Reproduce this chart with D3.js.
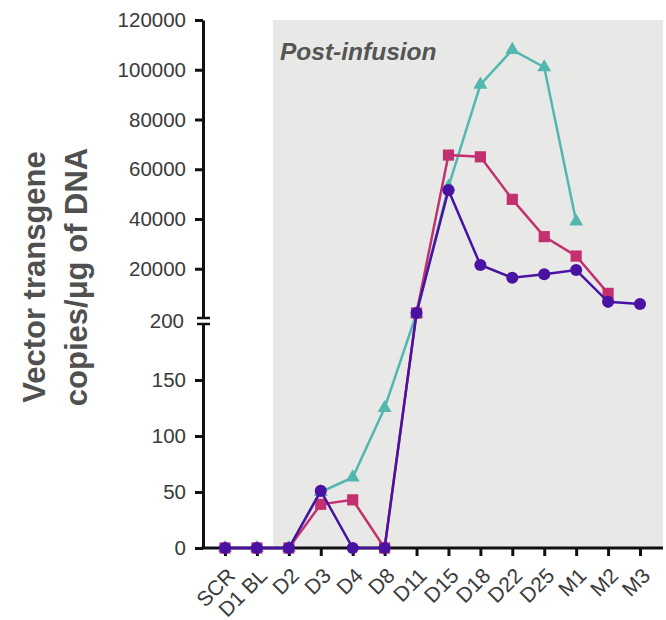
<!DOCTYPE html>
<html>
<head>
<meta charset="utf-8">
<script src="https://cdn.jsdelivr.net/npm/d3@7"></script>
<style>
	body { margin: 0; background: #fff; }
	text { font-family: "Liberation Sans", Arial, sans-serif; }
</style>
</head>
<body>
<div id="chart"></div>
<script>
var categories = ['SCR', 'D1 BL', 'D2', 'D3', 'D4', 'D8', 'D11', 'D15', 'D18', 'D22', 'D25', 'M1', 'M2', 'M3'];

// values, null = no point
var tealValues = [0, 0, 0, 50, 63, 125, 2000, 53000, 94000, 108000, 101000, 39000, null, null];
var pinkValues = [0, 0, 0, 39, 43, 0, 2200, 65700, 65000, 47900, 32900, 25100, 10100, null];
var purpleValues = [0, 0, 0, 51, 0, 0, 2200, 51600, 21500, 16400, 17800, 19500, 6700, 5800];

var lowTicks = [0, 50, 100, 150];
var highTicks = [20000, 40000, 60000, 80000, 100000, 120000];
var breakValue = 200;

var svg = d3.select('#chart').append('svg').attr('width', 666).attr('height', 620);

var xScale = d3.scalePoint()
	.domain(categories)
	.range([225, 640]);

var yLow = d3.scaleLinear()
	.domain([0, breakValue])
	.range([548, 324]);

var yHigh = d3.scaleLinear()
	.domain([breakValue, 120000])
	.range([318, 20]);

function yPos(v) {
	return v <= breakValue ? yLow(v) : yHigh(v);
}

// post-infusion band
svg.append('rect')
	.attr('x', 273)
	.attr('y', yHigh(120000))
	.attr('width', 663 - 273)
	.attr('height', yLow(0) - yHigh(120000))
	.attr('fill', '#e8e9e7');

svg.append('text')
	.attr('x', 280)
	.attr('y', 60)
	.attr('font-size', '24.5px')
	.attr('font-weight', 'bold')
	.attr('font-style', 'italic')
	.attr('fill', '#555')
	.text('Post-infusion');

// y axis, two segments
var lowAxis = d3.axisLeft(yLow).tickValues(lowTicks).tickSize(8).tickSizeOuter(0).tickPadding(9);
var highAxis = d3.axisLeft(yHigh).tickValues(highTicks).tickSize(8).tickSizeOuter(0).tickPadding(9)
	.tickFormat(d3.format('d'));

[lowAxis, highAxis].forEach(function(ax) {
	var g = svg.append('g')
		.attr('transform', 'translate(203,0)')
		.call(ax);
	g.select('.domain').attr('stroke', '#111').attr('stroke-width', 3);
	g.selectAll('.tick line').attr('stroke', '#111').attr('stroke-width', 3);
	g.selectAll('.tick text')
		.attr('font-size', '20.5px')
		.attr('font-family', '"Liberation Sans", Arial, sans-serif')
		.attr('fill', '#3a3a3a');
});

// break marks
[yLow(breakValue), yHigh(breakValue)].forEach(function(y) {
	svg.append('line')
		.attr('x1', 197).attr('x2', 210)
		.attr('y1', y).attr('y2', y)
		.attr('stroke', '#111')
		.attr('stroke-width', 2.5);
});

svg.append('text')
	.attr('x', 184)
	.attr('y', (yLow(breakValue) + yHigh(breakValue)) / 2)
	.attr('dy', '0.35em')
	.attr('text-anchor', 'end')
	.attr('font-size', '20.5px')
	.attr('fill', '#3a3a3a')
	.text(breakValue);

// x axis
var xAxis = d3.axisBottom(xScale).tickSize(8).tickSizeOuter(0);

var xg = svg.append('g')
	.attr('transform', 'translate(0,' + yLow(0) + ')')
	.call(xAxis);

xg.select('.domain').remove();
xg.selectAll('.tick line').attr('stroke', '#111').attr('stroke-width', 3);
xg.selectAll('.tick text')
	.attr('y', 0)
	.attr('dy', 0)
	.attr('text-anchor', 'end')
	.attr('transform', 'translate(11,29) rotate(-45)')
	.attr('font-size', '21px')
	.attr('font-family', '"Liberation Sans", Arial, sans-serif')
	.attr('fill', '#3a3a3a');

svg.append('line')
	.attr('x1', 201.5).attr('x2', 663)
	.attr('y1', yLow(0)).attr('y2', yLow(0))
	.attr('stroke', '#111')
	.attr('stroke-width', 3);

// y title
var title = svg.append('text')
	.attr('transform', 'translate(45,277) rotate(-90)')
	.attr('text-anchor', 'middle')
	.attr('font-size', '31px')
	.attr('font-weight', 'bold')
	.attr('fill', '#505050');

title.append('tspan').attr('x', 0).attr('y', 0).text('Vector transgene');
title.append('tspan').attr('x', 0).attr('y', 42).text('copies/\u03bcg of DNA');

// series
var series = [
	{ name: 'teal', values: tealValues, color: '#52b8af', marker: d3.symbolTriangle, size: 85 },
	{ name: 'pink', values: pinkValues, color: '#c3306f', marker: d3.symbolSquare, size: 125 },
	{ name: 'purple', values: purpleValues, color: '#4a12a3', marker: d3.symbolCircle, size: 115 }
];

series.forEach(function(s) {
	var pts = [];
	s.values.forEach(function(v, i) {
		if (v !== null) pts.push({ cat: categories[i], value: v });
	});

	var line = d3.line()
		.x(function(d) { return xScale(d.cat); })
		.y(function(d) { return yPos(d.value); });

	svg.append('path')
		.attr('d', line(pts))
		.attr('fill', 'none')
		.attr('stroke', s.color)
		.attr('stroke-width', 2.5);

	svg.append('g')
		.selectAll('path')
		.data(pts)
		.enter()
		.append('path')
		.attr('d', d3.symbol().type(s.marker).size(s.size))
		.attr('transform', function(d) {
			return 'translate(' + xScale(d.cat) + ',' + yPos(d.value) + ')';
		})
		.attr('fill', s.color);
});
</script>
</body>
</html>
